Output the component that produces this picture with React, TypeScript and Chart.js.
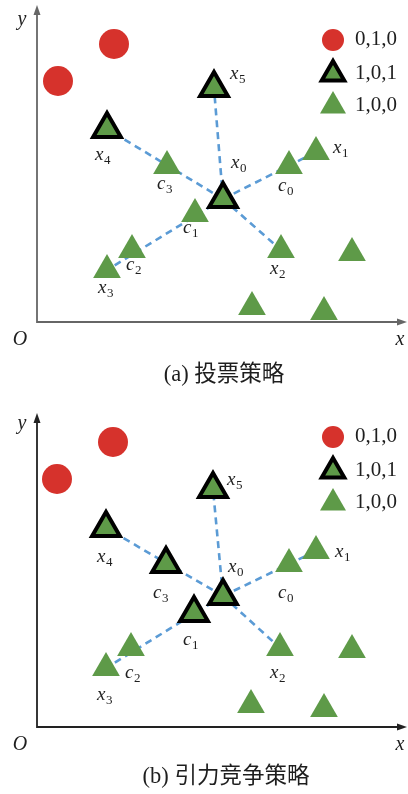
import React, { useEffect, useRef } from "react";
import { Chart, registerables } from "chart.js";

Chart.register(...registerables);

// ---------- data ----------
const classes = ["0,1,0", "1,0,1", "1,0,0"];

// panel (a) 投票策略
const aNames = ["x0", "x1", "x2", "x3", "x4", "x5", "c0", "c1", "c2", "c3", "", "", "", "", ""];
const aX = [186, 279, 244, 70, 70, 177, 252, 158, 95, 130, 315, 215, 287, 77, 21];
const aY = [123, 170, 72, 52, 193, 234, 156, 108, 72, 156, 69, 15, 10, 278, 241];
const aClass = ["1,0,1", "1,0,0", "1,0,0", "1,0,0", "1,0,1", "1,0,1", "1,0,0", "1,0,0", "1,0,0", "1,0,0", "1,0,0", "1,0,0", "1,0,0", "0,1,0", "0,1,0"];

// panel (b) 引力竞争策略
const bNames = ["x0", "x1", "x2", "x3", "x4", "x5", "c0", "c1", "c2", "c3", "", "", "", "", ""];
const bX = [186, 279, 243, 69, 69, 176, 252, 157, 94, 129, 315, 214, 287, 76, 20];
const bY = [131, 176, 79, 59, 199, 238, 163, 114, 79, 163, 77, 22, 18, 285, 248];
const bClass = ["1,0,1", "1,0,0", "1,0,0", "1,0,0", "1,0,1", "1,0,1", "1,0,0", "1,0,1", "1,0,0", "1,0,1", "1,0,0", "1,0,0", "1,0,0", "0,1,0", "0,1,0"];

const linkFrom = "x0";
const linkTo = ["x5", "x4", "x1", "x2", "x3"];
const captions = ["(a) 投票策略", "(b) 引力竞争策略"];
const axisNames = ["O", "x", "y"];
const xMaxA = 370, yMaxA = 317;
const xMaxB = 370, yMaxB = 314;

// ---------- styles ----------
const RED = "#d6322c";
const GREEN = "#5e9a48";
const BLUE = "#5b9bd5";
const TEXT = "#1e1e1e";
const SERIF = '"Liberation Serif", "DejaVu Serif", serif';

const panelStyles = [
  {
    padding: { left: 37, right: 1, top: 5, bottom: 75 },
    axisColor: "#666",
    captionY: 375,
    captionX: 224,
    oY: 340,
    yLabelY: 20,
    labelOffsets: {
      x5: [16, -14], x4: [-12, 26], c3: [-10, 18], x0: [8, -36], c0: [-11, 20],
      x1: [17, -4], c1: [-12, 14], c2: [-6, 15], x3: [-9, 18], x2: [-11, 19],
    } as Record<string, number[]>,
  },
  {
    padding: { left: 37, right: 1, top: 16, bottom: 67 },
    axisColor: "#222",
    captionY: 380,
    captionX: 226,
    oY: 348,
    yLabelY: 27,
    labelOffsets: {
      x5: [14, -9], x4: [-9, 29], c3: [-13, 29], x0: [5, -29], c0: [-11, 29],
      x1: [19, 1], c1: [-11, 27], c2: [-6, 25], x3: [-9, 27], x2: [-10, 25],
    } as Record<string, number[]>,
  },
];

function triPath(ctx: CanvasRenderingContext2D, x: number, y: number, r: number) {
  ctx.beginPath();
  for (let i = 0; i < 3; i++) {
    const a = (i * 2 * Math.PI) / 3;
    const px = x + Math.sin(a) * r;
    const py = y - Math.cos(a) * r;
    if (i === 0) ctx.moveTo(px, py);
    else ctx.lineTo(px, py);
  }
  ctx.closePath();
}

const diagramPlugin = {
  id: "diagram",
  beforeDatasetsDraw(chart: any, _args: any, opts: any) {
    const { ctx, chartArea } = chart;
    const { left, right, top, bottom } = chartArea;
    ctx.save();
    ctx.strokeStyle = opts.axisColor;
    ctx.fillStyle = opts.axisColor;
    ctx.lineWidth = 1.8;
    ctx.beginPath();
    ctx.moveTo(left, top + 6);
    ctx.lineTo(left, bottom);
    ctx.lineTo(right - 6, bottom);
    ctx.stroke();
    ctx.beginPath();
    ctx.moveTo(left, top);
    ctx.lineTo(left - 3.5, top + 10);
    ctx.lineTo(left + 3.5, top + 10);
    ctx.closePath();
    ctx.fill();
    ctx.beginPath();
    ctx.moveTo(right, bottom);
    ctx.lineTo(right - 10, bottom - 3.5);
    ctx.lineTo(right - 10, bottom + 3.5);
    ctx.closePath();
    ctx.fill();
    ctx.restore();
  },
  afterDatasetsDraw(chart: any, _args: any, opts: any) {
    const { ctx, chartArea, scales } = chart;
    const { left, right } = chartArea;
    ctx.save();
    ctx.fillStyle = TEXT;
    ctx.textBaseline = "alphabetic";
    // point labels
    const names: string[] = opts.names;
    names.forEach((name: string, i: number) => {
      if (!name) return;
      const off = opts.labelOffsets[name] || [0, 0];
      const px = scales.x.getPixelForValue(opts.xs[i]) + off[0];
      const py = scales.y.getPixelForValue(opts.ys[i]) + off[1];
      ctx.font = `italic 19px ${SERIF}`;
      ctx.textAlign = "left";
      ctx.fillText(name[0], px, py + 4.5);
      const w = ctx.measureText(name[0]).width;
      ctx.font = `13px ${SERIF}`;
      ctx.fillText(name.slice(1), px + w + 0.5, py + 9);
    });
    // axis names
    ctx.font = `italic 20px ${SERIF}`;
    ctx.textAlign = "center";
    ctx.textBaseline = "middle";
    ctx.fillText(axisNames[0], left - 17, opts.oY);
    ctx.fillText(axisNames[1], right - 7, opts.oY);
    ctx.fillText(axisNames[2], left - 15, opts.yLabelY);
    // caption
    ctx.font = `22.5px ${SERIF}, "Noto Sans CJK SC"`;
    ctx.fillText(opts.caption, opts.captionX, opts.captionY);
    // legend
    const lx = 333;
    const rows = [40, 74, 106];
    const textRows = [38, 72, 104];
    ctx.fillStyle = RED;
    ctx.beginPath();
    ctx.arc(lx, rows[0], 11, 0, Math.PI * 2);
    ctx.fill();
    triPath(ctx, lx, rows[1], 13);
    ctx.fillStyle = GREEN;
    ctx.fill();
    ctx.lineWidth = 4;
    ctx.strokeStyle = "#000";
    ctx.stroke();
    triPath(ctx, lx, rows[2], 15);
    ctx.fillStyle = GREEN;
    ctx.fill();
    ctx.fillStyle = TEXT;
    ctx.font = `21px ${SERIF}`;
    ctx.textAlign = "left";
    ctx.textBaseline = "middle";
    classes.forEach((c, i) => ctx.fillText(c, 355, textRows[i] + 1));
    ctx.restore();
  },
};

function buildDatasets(names: string[], xs: number[], ys: number[], cls: string[]) {
  const pts = (c: string) =>
    xs.map((x, i) => ({ x, y: ys[i], c: cls[i] })).filter((p) => p.c === c).map((p) => ({ x: p.x, y: p.y }));
  const from = names.indexOf(linkFrom);
  const ds: any[] = [
    {
      label: classes[0],
      data: pts(classes[0]),
      pointStyle: "circle",
      pointRadius: 15,
      backgroundColor: RED,
      borderWidth: 0,
      clip: false,
    },
    {
      label: classes[1],
      data: pts(classes[1]),
      pointStyle: "triangle",
      pointRadius: 16,
      backgroundColor: GREEN,
      borderColor: "#000",
      borderWidth: 4,
      clip: false,
    },
    {
      label: classes[2],
      data: pts(classes[2]),
      pointStyle: "triangle",
      pointRadius: 16,
      backgroundColor: GREEN,
      borderWidth: 0,
      clip: false,
    },
  ];
  linkTo.forEach((t) => {
    const j = names.indexOf(t);
    ds.push({
      label: `${linkFrom}-${t}`,
      data: [
        { x: xs[from], y: ys[from] },
        { x: xs[j], y: ys[j] },
      ],
      showLine: true,
      pointRadius: 0,
      borderColor: BLUE,
      borderWidth: 2.6,
      borderDash: [7, 5],
      fill: false,
      clip: false,
    });
  });
  return ds;
}

function Panel(props: { idx: number }) {
  const ref = useRef<HTMLCanvasElement | null>(null);
  useEffect(() => {
    const idx = props.idx;
    const st = panelStyles[idx];
    const names = idx === 0 ? aNames : bNames;
    const xs = idx === 0 ? aX : bX;
    const ys = idx === 0 ? aY : bY;
    const cls = idx === 0 ? aClass : bClass;
    const chart = new Chart(ref.current as HTMLCanvasElement, {
      type: "scatter",
      data: { datasets: buildDatasets(names, xs, ys, cls) },
      options: {
        animation: false,
        responsive: false,
        devicePixelRatio: 1,
        events: [],
        layout: { padding: st.padding, autoPadding: false },
        scales: {
          x: { type: "linear", min: 0, max: idx === 0 ? xMaxA : xMaxB, display: false },
          y: { type: "linear", min: 0, max: idx === 0 ? yMaxA : yMaxB, display: false },
        },
        plugins: {
          legend: { display: false },
          tooltip: { enabled: false },
          diagram: {
            ...st,
            names,
            xs,
            ys,
            caption: captions[idx],
          },
        } as any,
      } as any,
      plugins: [diagramPlugin],
    });
    return () => chart.destroy();
  }, [props.idx]);
  return <canvas ref={ref} width={408} height={397} style={{ display: "block", width: 408, height: 397 }} />;
}

export default function App() {
  return (
    <div style={{ position: "absolute", left: 0, top: 0, width: 408, height: 794, background: "#fff" }}>
      <Panel idx={0} />
      <Panel idx={1} />
    </div>
  );
}
